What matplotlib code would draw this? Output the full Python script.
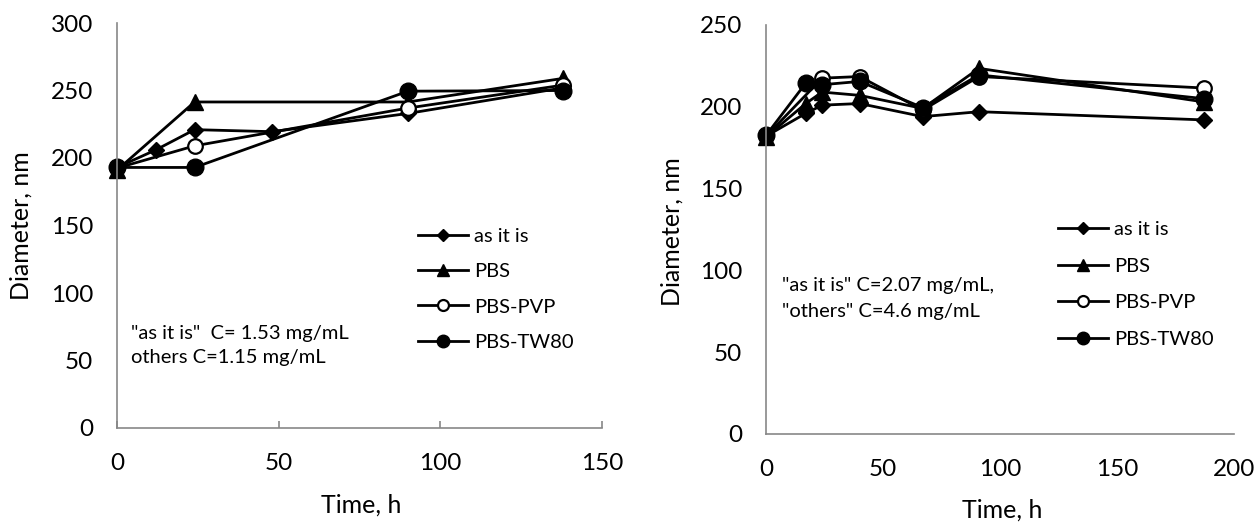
import matplotlib
matplotlib.use("Agg")
import matplotlib.pyplot as plt

plt.rcParams['font.family'] = ['Lato', 'DejaVu Sans']

# ---- Left chart data ----
L_t_asis = [0, 12, 24, 48, 90, 138]
L_d_asis = [193, 206, 221, 219.5, 233, 252]
L_t_pbs = [0, 24, 90, 138]
L_d_pbs = [191, 241.5, 241.5, 259]
L_t_pvp = [0, 24, 90, 138]
L_d_pvp = [192.5, 209, 237, 254]
L_t_tw = [0, 24, 90, 138]
L_d_tw = [193, 193, 249.5, 250]

# ---- Right chart data ----
R_t_asis = [0, 17, 24, 40, 67, 91, 187]
R_d_asis = [182, 196, 201, 202, 194, 197, 192]
R_t_pbs = [0, 17, 24, 40, 67, 91, 187]
R_d_pbs = [181.5, 202, 209, 207, 199, 223.5, 203]
R_t_pvp = [0, 24, 40, 67, 91, 187]
R_d_pvp = [182, 217.5, 218.5, 198, 218.5, 211.5]
R_t_tw = [0, 17, 24, 40, 67, 91, 187]
R_d_tw = [182.5, 214.5, 213.5, 215.5, 199.5, 219.5, 205]

labels = ["as it is", "PBS", "PBS-PVP", "PBS-TW80"]
L_xticks = [0, 50, 100, 150]
L_yticks = [0, 50, 100, 150, 200, 250, 300]
R_xticks = [0, 50, 100, 150, 200]
R_yticks = [0, 50, 100, 150, 200, 250]

W, H = 1256, 523
fig = plt.figure(figsize=(W / 100, H / 100), dpi=100)

def fx(px):
    return px / W

def fy(py):
    return 1 - py / H

AX_COL = '#878787'
TICK_FS = 17.5
LAB_FS = 18
TXT_FS = 14.5
styles = [
    dict(marker='D', ms=8, mfc='black', mec='black'),
    dict(marker='^', ms=11, mfc='black', mec='black'),
    dict(marker='o', ms=10.5, mfc='white', mec='black', mew=1.6),
    dict(marker='o', ms=12, mfc='black', mec='black'),
]

def draw(ax, series, xlim, ylim, xticks, yticks, xtick_marks):
    handles = []
    for (t, d), lab, st in zip(series, labels, styles):
        h, = ax.plot(t, d, color='black', lw=2.0, label=lab, clip_on=False, **st)
        handles.append(h)
    ax.set_xlim(*xlim)
    ax.set_ylim(*ylim)
    ax.set_xticks(xticks)
    ax.set_yticks(yticks)
    for s in ['top', 'right']:
        ax.spines[s].set_visible(False)
    for s in ['left', 'bottom']:
        ax.spines[s].set_color(AX_COL)
        ax.spines[s].set_linewidth(1.2)
    ax.tick_params(axis='y', length=0, pad=17, labelsize=TICK_FS)
    ax.tick_params(axis='x', direction='in', length=5 if xtick_marks else 0,
                   width=1.2, color=AX_COL, pad=18, labelsize=TICK_FS)
    return handles

# Left axes
axL = fig.add_axes([fx(117), fy(428), fx(602 - 117), (428 - 23) / H])
hL = draw(axL, [(L_t_asis, L_d_asis), (L_t_pbs, L_d_pbs), (L_t_pvp, L_d_pvp), (L_t_tw, L_d_tw)],
          (0, 150), (0, 300), L_xticks, L_yticks, True)

# Right axes
axR = fig.add_axes([fx(766), fy(434), fx(1234 - 766), (434 - 25) / H])
hR = draw(axR, [(R_t_asis, R_d_asis), (R_t_pbs, R_d_pbs), (R_t_pvp, R_d_pvp), (R_t_tw, R_d_tw)],
          (0, 200), (0, 250), R_xticks, R_yticks, False)

leg_kw = dict(frameon=False, fontsize=TXT_FS, handlelength=2.5, handletextpad=0.3,
              borderpad=0, borderaxespad=0, markerscale=0.75,
              loc='upper left', bbox_transform=fig.transFigure)
axL.legend(handles=hL, bbox_to_anchor=(fx(418), fy(228)), labelspacing=0.9, **leg_kw)
axR.legend(handles=hR, bbox_to_anchor=(fx(1058), fy(221)), labelspacing=0.97, **leg_kw)

# Annotations
fig.text(fx(131), fy(334), '"as it is"  C= 1.53 mg/mL', fontsize=TXT_FS, va='center', ha='left')
fig.text(fx(131), fy(358), 'others C=1.15 mg/mL', fontsize=TXT_FS, va='center', ha='left')
fig.text(fx(782), fy(285), '"as it is" C=2.07 mg/mL,', fontsize=TXT_FS, va='center', ha='left')
fig.text(fx(782), fy(311), '"others" C=4.6 mg/mL', fontsize=TXT_FS, va='center', ha='left')

# Axis labels
fig.text(fx(21), fy(226), 'Diameter, nm', rotation=90, fontsize=LAB_FS, va='center', ha='center')
fig.text(fx(361), fy(505), 'Time, h', fontsize=LAB_FS, va='center', ha='center')
fig.text(fx(672), fy(232), 'Diameter, nm', rotation=90, fontsize=LAB_FS, va='center', ha='center')
fig.text(fx(1002), fy(510), 'Time, h', fontsize=LAB_FS, va='center', ha='center')

fig.savefig('out.png', dpi=100)
